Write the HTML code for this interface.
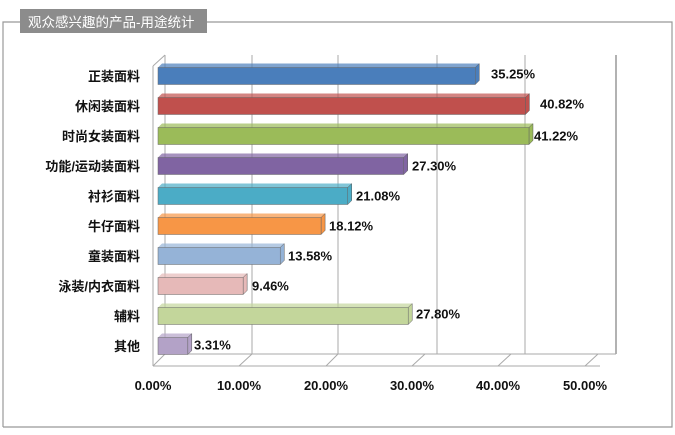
<!DOCTYPE html>
<html><head><meta charset="utf-8"><style>
html,body{margin:0;padding:0;background:#fff;}
svg{display:block;}
text{font-family:"Liberation Sans","Noto Sans CJK SC",sans-serif;}
</style></head><body>
<svg width="675" height="435" viewBox="0 0 675 435" xmlns="http://www.w3.org/2000/svg">
<path d="M3,427 L3,22 L20,22 M207,22 L672,22 L672,427 L3,427" fill="none" stroke="#999" stroke-width="1.2"/>
<rect x="20" y="9" width="187" height="24" fill="#8c8c8c"/>
<text x="28" y="27" font-size="13.5" fill="#fff">观众感兴趣的产品-用途统计</text>
<g stroke="#aaa" stroke-width="1">
<line x1="165" y1="55" x2="165" y2="354"/>
<line x1="252" y1="55" x2="252" y2="354"/>
<line x1="338" y1="55" x2="338" y2="354"/>
<line x1="437" y1="55" x2="437" y2="354"/>
<line x1="525" y1="55" x2="525" y2="354"/>
<line x1="616" y1="55" x2="616" y2="354" stroke="#999" stroke-width="1.5"/>
<line x1="153" y1="366" x2="600" y2="366"/>
<line x1="165" y1="354" x2="616" y2="354"/>
<line x1="153" y1="366" x2="165" y2="354"/><line x1="239" y1="366" x2="252" y2="354"/>
<line x1="326" y1="366" x2="338" y2="354"/><line x1="412" y1="366" x2="425" y2="354"/>
<line x1="498" y1="366" x2="511" y2="354"/><line x1="585" y1="366" x2="598" y2="354"/>
<line x1="153" y1="66" x2="153" y2="366"/><line x1="153" y1="66" x2="165" y2="55"/>
</g>
<g font-size="13" font-weight="bold" fill="#111">
<text x="153" y="390" text-anchor="middle">0.00%</text>
<text x="239" y="390" text-anchor="middle">10.00%</text>
<text x="326" y="390" text-anchor="middle">20.00%</text>
<text x="412" y="390" text-anchor="middle">30.00%</text>
<text x="498" y="390" text-anchor="middle">40.00%</text>
<text x="585" y="390" text-anchor="middle">50.00%</text>
</g>
<g font-size="13" font-weight="bold" fill="#111" stroke-width="0.5">
<g transform="translate(158,67.5)"><polygon points="0,0 4,-4 321.25,-4 317.25,0" fill="#4a7ebb" opacity="0.7"/><polygon points="317.25,0 321.25,-4 321.25,13 317.25,17" fill="#4a7ebb" stroke="#555"/><rect width="317.25" height="17" fill="#4a7ebb" stroke="#666"/><text x="333" y="11">35.25%</text><text x="-18" y="13.5" text-anchor="end">正装面料</text></g>
<g transform="translate(158,97.5)"><polygon points="0,0 4,-4 371.38,-4 367.38,0" fill="#c0504d" opacity="0.7"/><polygon points="367.38,0 371.38,-4 371.38,13 367.38,17" fill="#c0504d" stroke="#555"/><rect width="367.38" height="17" fill="#c0504d" stroke="#666"/><text x="382" y="11">40.82%</text><text x="-18" y="13.5" text-anchor="end">休闲装面料</text></g>
<g transform="translate(158,127.5)"><polygon points="0,0 4,-4 374.98,-4 370.98,0" fill="#9bbb59" opacity="0.7"/><polygon points="370.98,0 374.98,-4 374.98,13 370.98,17" fill="#9bbb59" stroke="#555"/><rect width="370.98" height="17" fill="#9bbb59" stroke="#666"/><text x="376" y="13">41.22%</text><text x="-18" y="13.5" text-anchor="end">时尚女装面料</text></g>
<g transform="translate(158,157.5)"><polygon points="0,0 4,-4 249.7,-4 245.7,0" fill="#8064a2" opacity="0.7"/><polygon points="245.7,0 249.7,-4 249.7,13 245.7,17" fill="#8064a2" stroke="#555"/><rect width="245.7" height="17" fill="#8064a2" stroke="#666"/><text x="254" y="13">27.30%</text><text x="-18" y="13.5" text-anchor="end">功能/运动装面料</text></g>
<g transform="translate(158,187.5)"><polygon points="0,0 4,-4 193.72,-4 189.72,0" fill="#4bacc6" opacity="0.7"/><polygon points="189.72,0 193.72,-4 193.72,13 189.72,17" fill="#4bacc6" stroke="#555"/><rect width="189.72" height="17" fill="#4bacc6" stroke="#666"/><text x="198" y="13">21.08%</text><text x="-18" y="13.5" text-anchor="end">衬衫面料</text></g>
<g transform="translate(158,217.5)"><polygon points="0,0 4,-4 167.08,-4 163.08,0" fill="#f79646" opacity="0.7"/><polygon points="163.08,0 167.08,-4 167.08,13 163.08,17" fill="#f79646" stroke="#555"/><rect width="163.08" height="17" fill="#f79646" stroke="#666"/><text x="171" y="13">18.12%</text><text x="-18" y="13.5" text-anchor="end">牛仔面料</text></g>
<g transform="translate(158,247.5)"><polygon points="0,0 4,-4 126.22,-4 122.22,0" fill="#95b3d7" opacity="0.7"/><polygon points="122.22,0 126.22,-4 126.22,13 122.22,17" fill="#95b3d7" stroke="#555"/><rect width="122.22" height="17" fill="#95b3d7" stroke="#666"/><text x="130" y="13">13.58%</text><text x="-18" y="13.5" text-anchor="end">童装面料</text></g>
<g transform="translate(158,277.5)"><polygon points="0,0 4,-4 89.14,-4 85.14,0" fill="#e6b9b8" opacity="0.7"/><polygon points="85.14,0 89.14,-4 89.14,13 85.14,17" fill="#e6b9b8" stroke="#555"/><rect width="85.14" height="17" fill="#e6b9b8" stroke="#666"/><text x="94" y="13">9.46%</text><text x="-18" y="13.5" text-anchor="end">泳装/内衣面料</text></g>
<g transform="translate(158,307.5)"><polygon points="0,0 4,-4 254.2,-4 250.2,0" fill="#c3d69b" opacity="0.7"/><polygon points="250.2,0 254.2,-4 254.2,13 250.2,17" fill="#c3d69b" stroke="#555"/><rect width="250.2" height="17" fill="#c3d69b" stroke="#666"/><text x="258" y="11">27.80%</text><text x="-18" y="13.5" text-anchor="end">辅料</text></g>
<g transform="translate(158,337.5)"><polygon points="0,0 4,-4 33.79,-4 29.79,0" fill="#b3a2c7" opacity="0.7"/><polygon points="29.79,0 33.79,-4 33.79,13 29.79,17" fill="#b3a2c7" stroke="#555"/><rect width="29.79" height="17" fill="#b3a2c7" stroke="#666"/><text x="36" y="12">3.31%</text><text x="-18" y="13.5" text-anchor="end">其他</text></g>
</g>
</svg>
</body></html>
